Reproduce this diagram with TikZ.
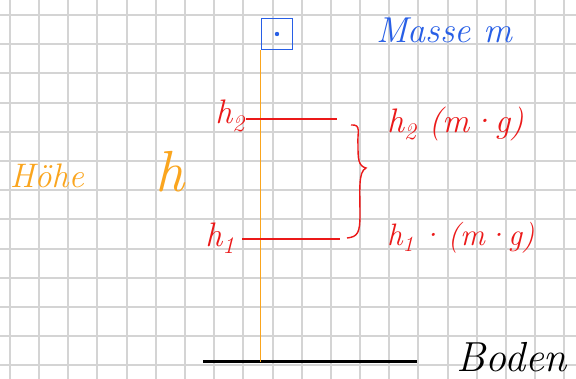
\documentclass[tikz,border=0pt]{standalone}
\usepackage{fontspec}
\usetikzlibrary{positioning, calc}
\definecolor{penred}{RGB}{235,25,25}
\definecolor{penblue}{RGB}{40,95,230}
\definecolor{penorange}{RGB}{250,165,30}
\definecolor{gridgray}{RGB}{212,212,212}
\tikzset{
  hand/.style     = {font=\itshape\fontsize{34}{36}\selectfont, inner sep=1pt},
  redhand/.style  = {hand, text=penred},
  bluehand/.style = {hand, text=penblue},
  orahand/.style  = {hand, text=penorange},
  level/.style    = {draw=penred, line width=1.4pt},
  mass/.style     = {draw=penblue, line width=1.8pt, minimum width=31pt,
                     minimum height=31pt, inner sep=0pt}
}

\begin{document}
\begin{tikzpicture}[x=1pt, y=-1pt]
\useasboundingbox (0,0) rectangle (576,379);
\fill[white] (0,0) rectangle (576,379);
% squared paper
\foreach \x in {10,39,68,97,127,156,185,214,243,273,302,331,360,389,418,448,477,506,535,564} {
  \draw[gridgray, line width=2pt] (\x,0) -- (\x,379);
}
\foreach \y in {15,44,73,103,132,161,190,219,249,278,307,336,365} {
  \draw[gridgray, line width=2pt] (0,\y) -- (576,\y);
}

% the mass
\node[mass] at (277,34) (box) {};
\fill[penblue] (box.center) circle (2.2pt);
\node[bluehand, anchor=west, font=\itshape\fontsize{36}{38}\selectfont] at (375,30) (masse) {Masse m};

% ground
\coordinate (g0) at (203,362);
\coordinate (g1) at (417,362);
\draw[black, line width=3pt] (g0) -- (g1);
\node[hand, font=\itshape\fontsize{42}{44}\selectfont, anchor=west] at (455,357) (boden) {Boden};

% height line
\coordinate (top) at (box.south west);
\draw[penorange, line width=1.6pt] (top) -- (top |- g0);
\node[orahand] at (47,176) (hoehe) {Höhe};
\node[orahand, font=\itshape\fontsize{58}{60}\selectfont] at (170,172) (hh) {h};

% levels
\node[redhand, anchor=east] at (246,116) (lab2) {h\textsubscript{2}};
\node[redhand, anchor=east] at (236,238) (lab1) {h\textsubscript{1}};
\coordinate (e2) at (337,119);
\coordinate (e1) at (340,239);
\draw[level] (lab2.east |- e2) -- (e2);
\draw[level] (lab1.east |- e1) ++(6,0) -- (e1);

% brace
\coordinate (bt) at (351,125);
\coordinate (tip) at (366,168);
\coordinate (bb) at (347,238);
\draw[penred, line width=1.4pt] (bt) .. controls (362,124) and (357,133) .. (358,145)
  .. controls (358,158) and (358,166) .. (tip)
  .. controls (358,172) and (360,190) .. (360,215)
  .. controls (360,232) and (358,237) .. (bb);

\node[redhand, anchor=west] at (386,124) (pot2) {h\textsubscript{2} (m·g)};
\node[redhand, anchor=west, font=\itshape\fontsize{31}{33}\selectfont] at (386,238) (pot1) {h\textsubscript{1}\,·\,(m·g)};
\end{tikzpicture}
\end{document}
